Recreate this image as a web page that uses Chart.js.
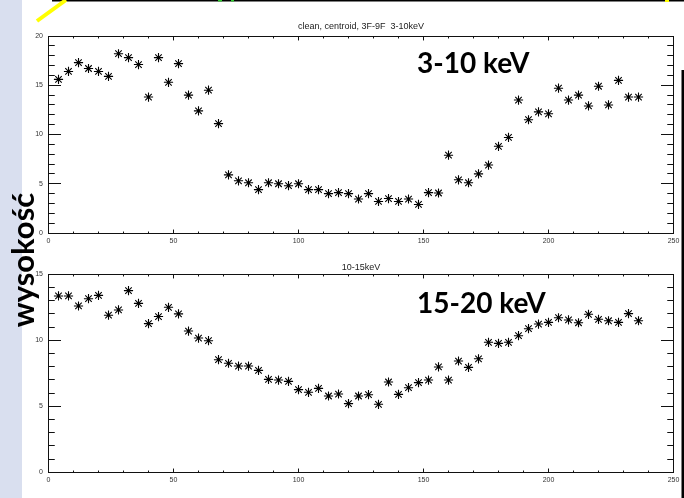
<!DOCTYPE html>
<html>
<head>
<meta charset="utf-8">
<script src="https://cdn.jsdelivr.net/npm/chart.js@4.4.1/dist/chart.umd.min.js"></script>
<style>
  body { margin: 0; background: #fff; }
  #page { position: relative; width: 684px; height: 498px; overflow: hidden; background: #fff; }
  #strip { position: absolute; left: 0; top: 0; width: 22px; height: 498px; background: #d9dfef; }
  canvas { position: absolute; left: 0; }
  .big { position: absolute; font-family: Lato, sans-serif; font-weight: 700; font-size: 28px;
         line-height: 28px; color: #000; white-space: nowrap; }
  #ylab { left: 22px; top: 260px; transform: translate(-50%, -50%) rotate(-90deg); font-size: 31px; line-height: 31px; }
  #deco { position: absolute; left: 0; top: 0; }
</style>
</head>
<body>
<div id="page">
  <div id="strip"></div>
  <canvas id="topChart" width="684" height="250" style="top:0"></canvas>
  <canvas id="bottomChart" width="684" height="248" style="top:250px"></canvas>
  <svg id="deco" width="684" height="498">
    <line x1="52" y1="0.75" x2="684" y2="0.75" stroke="#000" stroke-width="1.5"/>
    <line x1="218" y1="0.75" x2="222" y2="0.75" stroke="#3c3" stroke-width="1.5"/>
    <line x1="231" y1="0.75" x2="234" y2="0.75" stroke="#3c3" stroke-width="1.5"/>
    <line x1="37" y1="21" x2="66" y2="0" stroke="#ffff00" stroke-width="4"/>
    <line x1="665" y1="1" x2="669" y2="1" stroke="#ffff00" stroke-width="2"/>
    <rect x="681.5" y="70" width="2.5" height="428" fill="#000"/>
  </svg>
  <div class="big" style="left:417px; top:48px">3-10 keV</div>
  <div class="big" style="left:417px; top:288px">15-20 keV</div>
  <div class="big" id="ylab">wysokość</div>
</div>
<script>
// bin positions (x) shared by both panels
const xPos = [4, 8, 12, 16, 20, 24, 28, 32, 36, 40,
              44, 48, 52, 56, 60, 64, 68, 72, 76, 80,
              84, 88, 92, 96, 100, 104, 108, 112, 116, 120,
              124, 128, 132, 136, 140, 144, 148, 152, 156, 160,
              164, 168, 172, 176, 180, 184, 188, 192, 196, 200,
              204, 208, 212, 216, 220, 224, 228, 232, 236];

// 3-10 keV panel
const topValues = [15.6, 16.4, 17.3, 16.7, 16.4, 15.9, 18.2, 17.8, 17.1, 13.8,
                   17.8, 15.3, 17.2, 14.0, 12.4, 14.5, 11.1, 5.9, 5.3, 5.1,
                   4.4, 5.1, 5.0, 4.8, 5.0, 4.4, 4.4, 4.0, 4.1, 4.0,
                   3.45, 4.0, 3.2, 3.5, 3.2, 3.45, 2.9, 4.1, 4.06, 7.9,
                   5.4, 5.1, 6.0, 6.9, 8.8, 9.7, 13.5, 11.5, 12.3, 12.1,
                   14.7, 13.5, 14.0, 12.9, 14.9, 13.0, 15.5, 13.8, 13.8];

// 10-15 keV panel
const bottomValues = [13.36, 13.36, 12.6, 13.15, 13.4, 11.9, 12.3, 13.76, 12.8, 11.26,
                      11.8, 12.5, 12.0, 10.7, 10.17, 9.97, 8.53, 8.26, 8.05, 8.05,
                      7.72, 7.04, 6.99, 6.89, 6.26, 6.06, 6.36, 5.78, 5.93, 5.2,
                      5.78, 5.88, 5.15, 6.84, 5.9, 6.41, 6.79, 6.99, 7.98, 6.99,
                      8.43, 7.95, 8.6, 9.85, 9.77, 9.85, 10.35, 10.88, 11.23, 11.36,
                      11.71, 11.54, 11.33, 11.97, 11.59, 11.48, 11.36, 12.02, 11.48];

const xTicks = [0, 50, 100, 150, 200, 250];
const topYTicks = [0, 5, 10, 15, 20];
const bottomYTicks = [0, 5, 10, 15];

const topTitle = 'clean, centroid, 3F-9F  3-10keV';
const bottomTitle = '10-15keV';

function snap(v) {
    return Math.round(v - 0.5) + 0.5;
}

// IDL style box with inward ticks on all 4 sides
const idlFrame = {
    id: 'idlFrame',
    afterDraw(chart) {
        const ctx = chart.ctx;
        const a = chart.chartArea;
        const x = chart.scales.x;
        const y = chart.scales.y;
        const w = a.right - a.left;
        const h = a.bottom - a.top;
        const L = snap(a.left), R = snap(a.right), T = snap(a.top), B = snap(a.bottom);
        ctx.save();
        ctx.strokeStyle = '#111';
        ctx.lineWidth = 1;
        ctx.strokeRect(L, T, R - L, B - T);
        ctx.beginPath();
        for (let v = x.min; v <= x.max; v += 10) {
            const px = snap(x.getPixelForValue(v));
            const len = v % 50 === 0 ? 0.02 * h : 0.01 * h;
            ctx.moveTo(px, B); ctx.lineTo(px, B - len);
            ctx.moveTo(px, T); ctx.lineTo(px, T + len);
        }
        for (let v = y.min; v <= y.max; v += 1) {
            const py = snap(y.getPixelForValue(v));
            const len = v % 5 === 0 ? 0.02 * w : 0.01 * w;
            ctx.moveTo(L, py); ctx.lineTo(L + len, py);
            ctx.moveTo(R, py); ctx.lineTo(R - len, py);
        }
        ctx.stroke();
        ctx.restore();
    }
};

function makePanel(id, values, yTicks, title, titlePad, axisHeight) {
    const pts = [];
    for (let i = 0; i < xPos.length; i++) {
        pts.push({x: xPos[i], y: values[i]});
    }
    const tickFont = {family: 'Liberation Sans', size: 7};
    return new Chart(document.getElementById(id), {
        type: 'scatter',
        data: {
            datasets: [{
                data: pts,
                pointStyle: 'star',
                pointRadius: 4.6,
                pointBorderWidth: 1.1,
                borderColor: '#000',
                backgroundColor: '#000'
            }]
        },
        options: {
            responsive: false,
            animation: false,
            devicePixelRatio: 1,
            layout: {padding: {left: 0, right: 10.5, top: 0, bottom: 0}},
            plugins: {
                legend: {display: false},
                tooltip: {enabled: false},
                title: {
                    display: true,
                    fullSize: false,
                    text: title,
                    color: '#222',
                    font: {family: 'Liberation Sans', size: 9, weight: 'normal', lineHeight: 1.2},
                    padding: titlePad
                }
            },
            scales: {
                x: {
                    type: 'linear',
                    min: xTicks[0],
                    max: xTicks[xTicks.length - 1],
                    grid: {display: false, drawTicks: false},
                    border: {display: false},
                    ticks: {font: tickFont, color: '#333', padding: 4, maxRotation: 0, autoSkip: false},
                    afterBuildTicks(s) { s.ticks = xTicks.map(v => ({value: v})); },
                    afterFit(s) { s.height = axisHeight; }
                },
                y: {
                    type: 'linear',
                    min: yTicks[0],
                    max: yTicks[yTicks.length - 1],
                    grid: {display: false, drawTicks: false},
                    border: {display: false},
                    ticks: {font: tickFont, color: '#333', padding: 5.5, autoSkip: false},
                    afterBuildTicks(s) { s.ticks = yTicks.map(v => ({value: v})); },
                    afterFit(s) { s.width = 48.5; }
                }
            }
        },
        plugins: [idlFrame]
    });
}

makePanel('topChart', topValues, topYTicks, topTitle, {top: 21, bottom: 4.2}, 17);
makePanel('bottomChart', bottomValues, bottomYTicks, bottomTitle, {top: 12.1, bottom: 1.4}, 25.7);
</script>
</body>
</html>
